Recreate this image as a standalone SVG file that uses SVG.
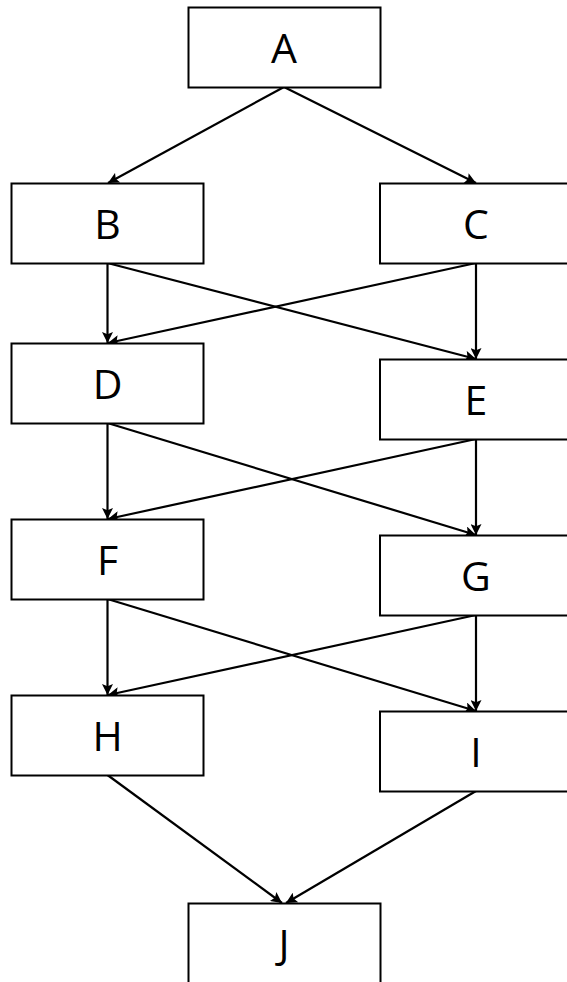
<svg xmlns="http://www.w3.org/2000/svg" width="567" height="982" viewBox="0 0 567 982">
<style>
.box{fill:#fff;stroke:#000;stroke-width:2}
.lbl{font-family:"Open Sans","Noto Sans",sans-serif;font-size:41px;fill:#000;text-anchor:middle}
.edge{stroke:#000;stroke-width:2.2;fill:none;marker-end:url(#arr)}
</style>
<defs>
<marker id="arr" viewBox="0 0 10 10" refX="10" refY="5" markerWidth="5.5" markerHeight="5" orient="auto" markerUnits="strokeWidth">
<path d="M0,0 L10,5 L0,10 L2,5 Z" fill="#000"/>
</marker>
</defs>
<rect width="567" height="982" fill="#fff"/>
<g id="connectors">
<line class="edge" x1="284" y1="87" x2="108" y2="183"/>
<line class="edge" x1="284" y1="87" x2="476" y2="183"/>
<line class="edge" x1="107.5" y1="263" x2="107.5" y2="343"/>
<line class="edge" x1="107.5" y1="263" x2="476" y2="359"/>
<line class="edge" x1="476" y1="263" x2="108" y2="343"/>
<line class="edge" x1="476" y1="263" x2="476" y2="359"/>
<line class="edge" x1="107.5" y1="423" x2="107.5" y2="519"/>
<line class="edge" x1="107.5" y1="423" x2="476" y2="535"/>
<line class="edge" x1="476" y1="439" x2="108" y2="519"/>
<line class="edge" x1="476" y1="439" x2="476" y2="535"/>
<line class="edge" x1="107.5" y1="599" x2="107.5" y2="695"/>
<line class="edge" x1="107.5" y1="599" x2="476" y2="711"/>
<line class="edge" x1="476" y1="615" x2="108" y2="695"/>
<line class="edge" x1="476" y1="615" x2="476" y2="711"/>
<line class="edge" x1="107.5" y1="775" x2="282" y2="903"/>
<line class="edge" x1="476" y1="791" x2="286" y2="903"/>
</g>
<g id="A"><rect class="box" x="188.5" y="7.5" width="192" height="80"/><text class="lbl" x="284" y="63">A</text></g>
<g id="B"><rect class="box" x="11.5" y="183.5" width="192" height="80"/><text class="lbl" x="107.5" y="239">B</text></g>
<g id="C"><rect class="box" x="380" y="183.5" width="192" height="80"/><text class="lbl" x="476" y="239">C</text></g>
<g id="D"><rect class="box" x="11.5" y="343.5" width="192" height="80"/><text class="lbl" x="107.5" y="399">D</text></g>
<g id="E"><rect class="box" x="380" y="359.5" width="192" height="80"/><text class="lbl" x="476" y="415">E</text></g>
<g id="F"><rect class="box" x="11.5" y="519.5" width="192" height="80"/><text class="lbl" x="107.5" y="575">F</text></g>
<g id="G"><rect class="box" x="380" y="535.5" width="192" height="80"/><text class="lbl" x="476" y="591">G</text></g>
<g id="H"><rect class="box" x="11.5" y="695.5" width="192" height="80"/><text class="lbl" x="107.5" y="751">H</text></g>
<g id="I"><rect class="box" x="380" y="711.5" width="192" height="80"/><text class="lbl" x="476" y="767">I</text></g>
<g id="J"><rect class="box" x="188.5" y="903.5" width="192" height="80"/><text class="lbl" x="284" y="959">J</text></g>
</svg>
